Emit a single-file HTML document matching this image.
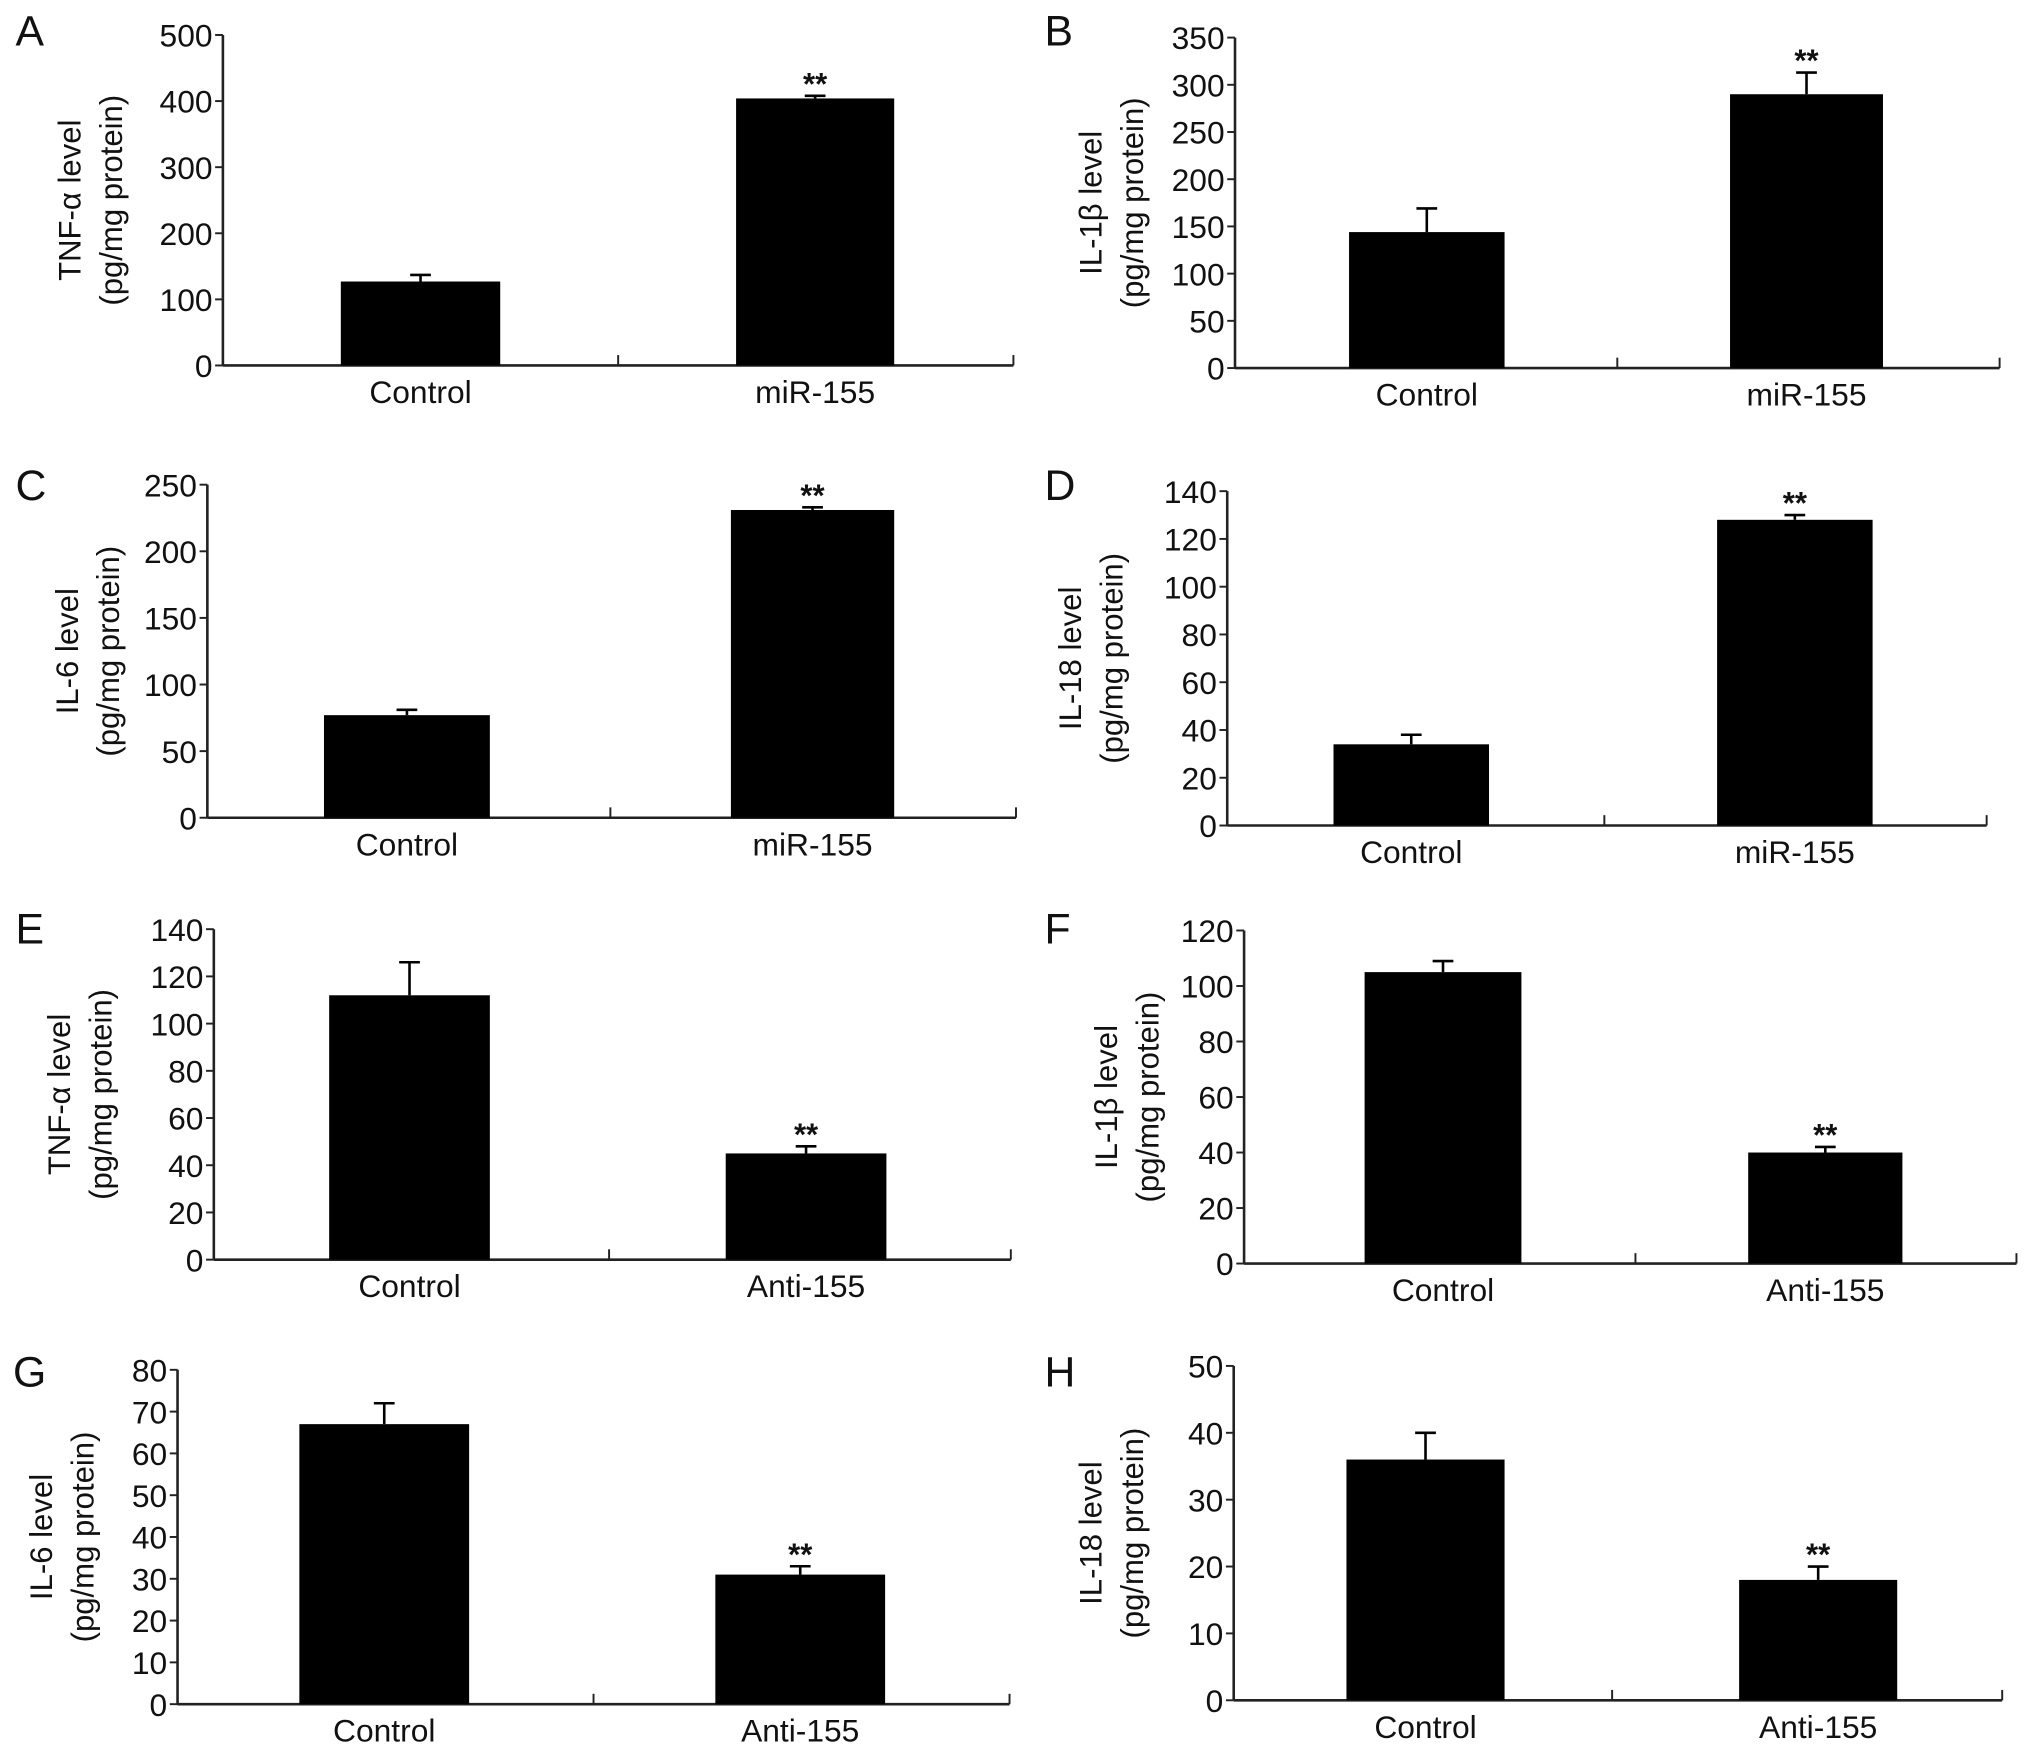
<!DOCTYPE html>
<html><head><meta charset="utf-8"><style>
html,body{margin:0;padding:0;background:#fff}
svg{display:block}
text{font-family:"Liberation Sans",Arial,sans-serif;fill:#111}
</style></head><body>
<svg id="fig" width="2032" height="1763" viewBox="0 0 1568 1360.4" preserveAspectRatio="none" xmlns="http://www.w3.org/2000/svg"></svg>
<script>
// Panel data
const panelLetters = ["A","B","C","D","E","F","G","H"];
const yTitles1 = ["TNF-\u03b1 level","IL-1\u03b2 level","IL-6 level","IL-18 level","TNF-\u03b1 level","IL-1\u03b2 level","IL-6 level","IL-18 level"];
const categoriesA = ["Control","miR-155"];
const categoriesB = ["Control","Anti-155"];
const yMaxes = [500,350,250,140,140,120,80,50];
const ySteps = [100,50,50,20,20,20,10,10];
const controlValues = [127,144,77,34,112,105,67,36];
const controlErrors = [137,169,81,38,126,109,72,40];
const treatValues = [404,290,231,128,45,40,31,18];
const treatErrors = [408,313,233,130,48,42,33,20];

// layout (not data)
const layout = [
 {ax:172,y0:282,top:27,xe:782,mid:477,b1:[263,386],b2:[568,690],lx:12,ly:35,tx:62},
 {ax:953,y0:284,top:29,xe:1543,mid:1248,b1:[1041,1161],b2:[1335,1453],lx:806,ly:35,tx:850},
 {ax:160,y0:631,top:374,xe:784,mid:471,b1:[250,378],b2:[564,690],lx:12,ly:386,tx:60},
 {ax:947,y0:637,top:379,xe:1533,mid:1238,b1:[1029,1149],b2:[1325,1445],lx:806,ly:386,tx:834},
 {ax:165,y0:972,top:717,xe:780,mid:470,b1:[254,378],b2:[560,684],lx:12,ly:728,tx:54},
 {ax:960,y0:975,top:718,xe:1556,mid:1262,b1:[1053,1174],b2:[1349,1468],lx:806,ly:728,tx:862},
 {ax:137,y0:1315,top:1057,xe:779,mid:458,b1:[231,362],b2:[552,683],lx:10,ly:1070,tx:40},
 {ax:952,y0:1312,top:1054,xe:1545,mid:1244,b1:[1039,1161],b2:[1342,1464],lx:806,ly:1070,tx:850}
];
const NS="http://www.w3.org/2000/svg";
const svg=document.getElementById('fig');
function mk(tag,attrs,parent,txt){const e=document.createElementNS(NS,tag);for(const k in attrs)e.setAttribute(k,attrs[k]);if(txt!==undefined)e.textContent=txt;parent.appendChild(e);return e;}
for(let i=0;i<8;i++){
 const L=layout[i];
 const g=mk('g',{},svg);
 
 
 const y=v=>L.y0-(v/yMaxes[i])*(L.y0-L.top);
 const t=mk('text',{x:L.lx,y:L.ly,'font-size':33},g,panelLetters[i]);
 
 
 const ya=mk('line',{x1:L.ax,y1:L.top,x2:L.ax,y2:L.y0,stroke:'#222','stroke-width':2},g);
 
 
 const xa=mk('line',{x1:L.ax,y1:L.y0,x2:L.xe,y2:L.y0,stroke:'#222','stroke-width':2},g);
 
 
 mk('line',{x1:L.mid,y1:L.y0,x2:L.mid,y2:L.y0-8,stroke:'#222','stroke-width':1.5},g);
 mk('line',{x1:L.xe,y1:L.y0,x2:L.xe,y2:L.y0-8,stroke:'#222','stroke-width':1.5},g);
 for(let v=0;v<=yMaxes[i]+1e-9;v+=ySteps[i]){
  mk('line',{x1:L.ax-6,y1:y(v),x2:L.ax,y2:y(v),stroke:'#222','stroke-width':1.5},g);
  const tl=mk('text',{x:L.ax-8,y:y(v)+9,'font-size':24.5,'text-anchor':'end'},g,String(v));
  
  
 }
 const cy=(L.top+L.y0)/2;
 const yt=mk('text',{x:0,y:0,'font-size':24,'text-anchor':'middle',transform:`translate(${L.tx},${cy}) rotate(-90)`},g);
 
 
 mk('tspan',{x:0,dy:0},yt,yTitles1[i]);
 mk('tspan',{x:0,dy:32},yt,'(pg/mg protein)');
 const cats=i<4?categoriesA:categoriesB;
 const vals=[controlValues[i],treatValues[i]], errs=[controlErrors[i],treatErrors[i]];
 [L.b1,L.b2].forEach((b,j)=>{
  const cx=(b[0]+b[1])/2;
  mk('line',{x1:cx,y1:y(errs[j]),x2:cx,y2:y(vals[j]),stroke:'#000','stroke-width':2},g);
  mk('line',{x1:cx-8,y1:y(errs[j]),x2:cx+8,y2:y(errs[j]),stroke:'#000','stroke-width':2},g);
  const r=mk('rect',{x:b[0],y:y(vals[j]),width:b[1]-b[0],height:L.y0-y(vals[j]),fill:'#000'},g);
  
  
  const cl=mk('text',{x:cx,y:L.y0+29,'font-size':24.5,'text-anchor':'middle'},g,cats[j]);
  
  
  if(j===1){
   const s=mk('text',{x:cx,y:y(errs[j])-1,'font-size':24,'font-weight':'bold','text-anchor':'middle'},g,'**');
   
   
  }
 });
}
</script>
</body></html>
